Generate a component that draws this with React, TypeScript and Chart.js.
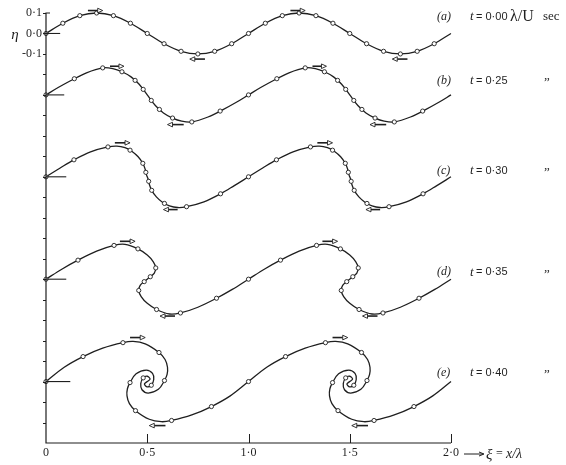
import React, { useEffect, useRef } from "react";
import { Chart, registerables } from "chart.js";

Chart.register(...registerables);

type P = [number, number];
type Arrow = [number, number, number];

// ---------- data (one wavelength, η relative to each curve's own zero line) ----------
const XI_TICKS = [0, 0.5, 1.0, 1.5, 2.0];
const XI_TICK_LABELS = ["0", "0·5", "1·0", "1·5", "2·0"];
const ETA_LABEL_VALUES = [0.1, 0.0, -0.1];
const ETA_LABELS = ["0·1", "0·0", "-0·1"];
const CASE_NAMES = ["(a)", "(b)", "(c)", "(d)", "(e)"];
const TIME_VALUES = ["0·00", "0·25", "0·30", "0·35", "0·40"];
const CURVE_OFFSETS = [0, -0.3, -0.7, -1.2, -1.7];
const PERIOD_SHIFTS = [0, 1];

const PROFILE_A: P[] = [
  [0, 0], [0.083, 0.05], [0.167, 0.087], [0.25, 0.1], [0.333, 0.087], [0.417, 0.05],
  [0.5, 0], [0.583, -0.05], [0.667, -0.087], [0.75, -0.1], [0.833, -0.087], [0.917, -0.05], [1, 0],
];
const MARKS_A: P[] = [
  [0, 0], [0.083, 0.05], [0.167, 0.087], [0.25, 0.1], [0.333, 0.087], [0.417, 0.05],
  [0.5, 0], [0.583, -0.05], [0.667, -0.087], [0.75, -0.1], [0.833, -0.087], [0.917, -0.05],
];

const PROFILE_B: P[] = [
  [0, 0], [0.06, 0.036], [0.128, 0.073], [0.2, 0.108], [0.28, 0.132], [0.33, 0.128],
  [0.375, 0.113], [0.42, 0.088], [0.46, 0.052], [0.5, 0], [0.54, -0.052], [0.58, -0.088],
  [0.625, -0.113], [0.67, -0.128], [0.72, -0.132], [0.8, -0.108], [0.872, -0.073], [0.94, -0.036], [1, 0],
];
const MARKS_B: P[] = [
  [0, 0], [0.14, 0.079], [0.28, 0.132], [0.375, 0.113], [0.44, 0.071], [0.48, 0.027],
  [0.52, -0.027], [0.56, -0.071], [0.625, -0.113], [0.72, -0.132], [0.86, -0.079],
];

const PROFILE_C: P[] = [
  [0, 0], [0.07, 0.043], [0.138, 0.083], [0.22, 0.122], [0.306, 0.146], [0.35, 0.15],
  [0.39, 0.142], [0.425, 0.124], [0.455, 0.098], [0.478, 0.066], [0.49, 0.036], [0.495, 0.013],
  [0.5, 0], [0.505, -0.013], [0.51, -0.036], [0.522, -0.066], [0.545, -0.098], [0.575, -0.124],
  [0.61, -0.142], [0.65, -0.15], [0.694, -0.146], [0.78, -0.122], [0.862, -0.083], [0.93, -0.043], [1, 0],
];
const MARKS_C: P[] = [
  [0, 0], [0.138, 0.083], [0.306, 0.146], [0.415, 0.13], [0.478, 0.066], [0.493, 0.022],
  [0.507, -0.022], [0.522, -0.066], [0.585, -0.13], [0.694, -0.146], [0.862, -0.083],
];

const PROFILE_D: P[] = [
  [0, 0], [0.08, 0.05], [0.158, 0.093], [0.25, 0.137], [0.336, 0.165], [0.39, 0.17],
  [0.454, 0.148], [0.5, 0.118], [0.53, 0.085], [0.542, 0.055], [0.535, 0.03], [0.515, 0.012],
  [0.5, 0], [0.485, -0.012], [0.465, -0.03], [0.458, -0.055], [0.47, -0.085], [0.5, -0.118],
  [0.546, -0.148], [0.61, -0.17], [0.664, -0.165], [0.75, -0.137], [0.842, -0.093], [0.92, -0.05], [1, 0],
];
const MARKS_D: P[] = [
  [0, 0], [0.158, 0.093], [0.336, 0.165], [0.454, 0.148], [0.542, 0.055], [0.515, 0.012],
  [0.485, -0.012], [0.458, -0.055], [0.546, -0.148], [0.664, -0.165], [0.842, -0.093],
];

const PROFILE_E: P[] = [
  [0, 0], [0.09, 0.07], [0.183, 0.122], [0.28, 0.163], [0.38, 0.19], [0.43, 0.196],
  [0.49, 0.184], [0.558, 0.142], [0.588, 0.108], [0.6, 0.07], [0.598, 0.035], [0.585, 0.005],
  [0.555, -0.038], [0.505, -0.056], [0.474, -0.04], [0.468, -0.01], [0.48, 0.018], [0.5, 0.026],
  [0.514, 0.012], [0.5, 0], [0.486, -0.012], [0.5, -0.026], [0.52, -0.018], [0.532, 0.01],
  [0.526, 0.04], [0.495, 0.056], [0.445, 0.038], [0.415, -0.005], [0.402, -0.035], [0.4, -0.07],
  [0.412, -0.108], [0.442, -0.142], [0.51, -0.184], [0.57, -0.196], [0.62, -0.19], [0.72, -0.163],
  [0.817, -0.122], [0.91, -0.07], [1, 0],
];
const MARKS_E: P[] = [
  [0, 0], [0.183, 0.122], [0.38, 0.19], [0.558, 0.142], [0.585, 0.005], [0.48, 0.018],
  [0.52, -0.018], [0.415, -0.005], [0.442, -0.142], [0.62, -0.19], [0.817, -0.122],
];

const PROFILES = [PROFILE_A, PROFILE_B, PROFILE_C, PROFILE_D, PROFILE_E];
const MARKS = [MARKS_A, MARKS_B, MARKS_C, MARKS_D, MARKS_E];

// arrows: [ξ tail, ξ head, η] relative to each curve
const CREST_ARROWS: Arrow[] = [
  [0.207, 0.28, 0.112], [0.316, 0.385, 0.14], [0.34, 0.415, 0.166], [0.365, 0.44, 0.185], [0.415, 0.49, 0.215],
];
const TROUGH_ARROWS: Arrow[] = [
  [0.785, 0.71, -0.125], [0.68, 0.6, -0.145], [0.65, 0.58, -0.16], [0.637, 0.563, -0.18], [0.59, 0.51, -0.215],
];
const ZERO_STUBS = [0.07, 0.09, 0.1, 0.1, 0.12];

// ---------- layout / style ----------
const W = 566;
const H = 465;
const INK = "#1f1f1f";
const LABEL_RISE = [0.083, 0.068, 0.03, 0.034, 0.044];
const SERIF = "'Liberation Serif', 'DejaVu Serif', serif";
const SANS = "'Liberation Sans', 'DejaVu Sans', sans-serif";

const toPts = (arr: P[], off: number) => {
  const out: { x: number; y: number }[] = [];
  PERIOD_SHIFTS.forEach((s) => {
    arr.forEach(([xi, eta]) => {
      const last = out[out.length - 1];
      if (last && last.x === xi + s && last.y === eta + off) return;
      out.push({ x: xi + s, y: eta + off });
    });
  });
  return out;
};

const decor = {
  id: "decor",
  afterDatasetsDraw(chart: any) {
    const { ctx } = chart;
    const xs = chart.scales.x;
    const ys = chart.scales.y;
    const X = (v: number) => xs.getPixelForValue(v);
    const Y = (v: number) => ys.getPixelForValue(v);
    ctx.save();
    ctx.strokeStyle = INK;
    ctx.fillStyle = INK;
    ctx.lineWidth = 1.2;

    const x0 = X(0);
    const xEnd = X(2);
    const yTop = Y(0.1);
    const yBot = Y(-2.0);

    // axes
    ctx.beginPath();
    ctx.moveTo(x0 + 4, yTop);
    ctx.lineTo(x0, yTop);
    ctx.lineTo(x0, yBot);
    ctx.lineTo(xEnd, yBot);
    ctx.stroke();

    // η ticks every 0.1
    ctx.lineWidth = 1;
    for (let k = 1; k >= -19; k--) {
      const py = Math.round(Y(k / 10)) + 0.5;
      ctx.beginPath();
      ctx.moveTo(x0 - 3, py);
      ctx.lineTo(x0, py);
      ctx.stroke();
    }
    // ξ ticks
    XI_TICKS.forEach((v) => {
      if (v === 0) return;
      const px = Math.round(X(v)) + 0.5;
      ctx.beginPath();
      ctx.moveTo(px, yBot);
      ctx.lineTo(px, yBot - 9);
      ctx.stroke();
    });

    // ξ labels
    ctx.font = `12px ${SERIF}`;
    ctx.textAlign = "center";
    ctx.textBaseline = "top";
    XI_TICKS.forEach((v, i) => ctx.fillText(XI_TICK_LABELS[i], X(v), yBot + 4));

    // axis title ⟶ ξ = x/λ
    const ly = yBot + 11;
    ctx.beginPath();
    ctx.moveTo(xEnd + 13, ly);
    ctx.lineTo(xEnd + 32, ly);
    ctx.stroke();
    ctx.beginPath();
    ctx.moveTo(xEnd + 28, ly - 2);
    ctx.lineTo(xEnd + 33, ly);
    ctx.lineTo(xEnd + 28, ly + 2);
    ctx.stroke();
    ctx.textAlign = "left";
    ctx.textBaseline = "middle";
    ctx.font = `italic 15px ${SERIF}`;
    ctx.fillText("ξ", xEnd + 35, ly + 1);
    ctx.font = `12px ${SERIF}`;
    ctx.fillText("=", xEnd + 45, ly);
    ctx.font = `italic 14px ${SERIF}`;
    ctx.fillText("x/λ", xEnd + 55, ly);

    // η labels
    ctx.font = `12px ${SERIF}`;
    ctx.textAlign = "right";
    ctx.textBaseline = "middle";
    ETA_LABEL_VALUES.forEach((v, i) => ctx.fillText(ETA_LABELS[i], x0 - 4, Y(v)));
    ctx.font = `italic 15px ${SERIF}`;
    ctx.textAlign = "center";
    ctx.fillText("η", 15, Y(0) + 2);

    // zero stubs
    ctx.lineWidth = 1.1;
    CURVE_OFFSETS.forEach((off, i) => {
      ctx.beginPath();
      ctx.moveTo(x0, Y(off));
      ctx.lineTo(X(ZERO_STUBS[i]), Y(off));
      ctx.stroke();
    });

    // motion arrows
    const arrow = (a: Arrow, off: number, shift: number) => {
      const tail = X(a[0] + shift);
      const head = X(a[1] + shift);
      const py = Y(a[2] + off);
      const dir = head > tail ? 1 : -1;
      const base = head - dir * 5;
      ctx.lineWidth = 1.6;
      ctx.beginPath();
      ctx.moveTo(tail, py);
      ctx.lineTo(base, py);
      ctx.stroke();
      ctx.lineWidth = 0.9;
      ctx.beginPath();
      ctx.moveTo(head, py);
      ctx.lineTo(base, py - 2.3);
      ctx.lineTo(base, py + 2.3);
      ctx.closePath();
      ctx.fillStyle = "#fff";
      ctx.fill();
      ctx.stroke();
      ctx.fillStyle = INK;
    };
    CURVE_OFFSETS.forEach((off, i) => {
      PERIOD_SHIFTS.forEach((s) => {
        arrow(CREST_ARROWS[i], off, s);
        arrow(TROUGH_ARROWS[i], off, s);
      });
    });

    // case labels
    CURVE_OFFSETS.forEach((off, i) => {
      const py = Y(off + LABEL_RISE[i]);
      ctx.textAlign = "left";
      ctx.textBaseline = "middle";
      ctx.font = `italic 12px ${SERIF}`;
      ctx.fillText(CASE_NAMES[i], xEnd - 14, py);
      ctx.font = `italic 13px ${SERIF}`;
      ctx.fillText("t", xEnd + 19, py);
      ctx.font = `11px ${SANS}`;
      ctx.fillText("= " + TIME_VALUES[i], xEnd + 25, py);
      if (i === 0) {
        ctx.font = `16px ${SERIF}`;
        ctx.fillText("λ/U", xEnd + 59, py);
        ctx.font = `13px ${SERIF}`;
        ctx.fillText("sec", xEnd + 92, py);
      } else {
        ctx.font = `13px ${SERIF}`;
        ctx.fillText("\u201D", xEnd + 93, py + 2);
      }
    });

    ctx.restore();
  },
};

export default function App() {
  const ref = useRef<HTMLCanvasElement | null>(null);

  useEffect(() => {
    document.body.style.margin = "0";
    const canvas = ref.current;
    if (!canvas) return;

    const datasets: any[] = [];
    PROFILES.forEach((prof, i) => {
      const off = CURVE_OFFSETS[i];
      datasets.push({
        data: toPts(prof, off),
        showLine: true,
        tension: 0.35,
        borderColor: INK,
        borderWidth: 1.3,
        pointRadius: 0,
        pointHoverRadius: 0,
        clip: false,
        order: 2,
      });
      datasets.push({
        data: toPts(MARKS[i], off),
        showLine: false,
        pointRadius: 2.1,
        pointHoverRadius: 2.1,
        pointStyle: "circle",
        backgroundColor: "#ffffff",
        borderColor: INK,
        borderWidth: 0.9,
        clip: false,
        order: 1,
      });
    });

    const chart = new Chart(canvas, {
      type: "scatter",
      data: { datasets },
      options: {
        animation: false,
        responsive: false,
        devicePixelRatio: 1,
        layout: { padding: { left: 46, right: W - 451, top: 13, bottom: H - 443 } },
        plugins: { legend: { display: false }, tooltip: { enabled: false } },
        events: [],
        scales: {
          x: { type: "linear", min: 0, max: 2, display: false },
          y: { type: "linear", min: -2.0, max: 0.1, display: false },
        },
      },
      plugins: [decor],
    });
    return () => chart.destroy();
  }, []);

  return (
    <div style={{ width: W, height: H, background: "#fff" }}>
      <canvas ref={ref} width={W} height={H} style={{ display: "block" }} />
    </div>
  );
}
